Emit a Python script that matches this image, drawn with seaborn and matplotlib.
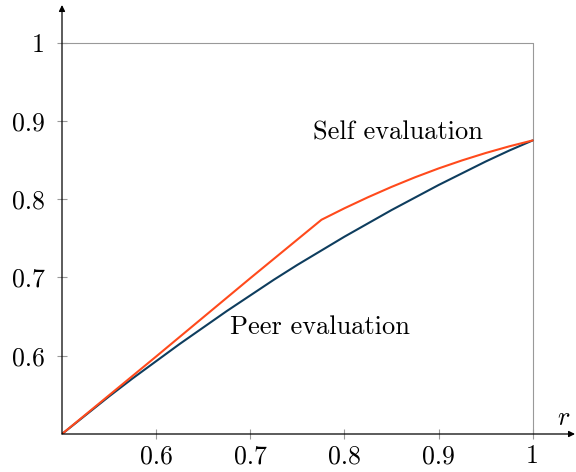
import matplotlib
matplotlib.use("Agg")
import matplotlib.pyplot as plt
import seaborn as sns
import pandas as pd

# data
peer_r = [0.5, 0.525, 0.55, 0.575, 0.6, 0.625, 0.65, 0.675, 0.7, 0.725, 0.75,
          0.775, 0.8, 0.825, 0.85, 0.875, 0.9, 0.925, 0.95, 0.975, 1.0]
peer_v = [0.5, 0.524, 0.548, 0.571, 0.593, 0.615, 0.636, 0.657, 0.677, 0.697, 0.716,
          0.734, 0.752, 0.769, 0.786, 0.802, 0.818, 0.833, 0.848, 0.862, 0.875]
self_r = [0.5, 0.6, 0.7, 0.7757, 0.8, 0.825, 0.85, 0.875, 0.9, 0.925, 0.95, 0.975, 1.0]
self_v = [0.5, 0.599, 0.699, 0.7737, 0.7883, 0.8024, 0.8156, 0.8279, 0.8392,
          0.8495, 0.8589, 0.8674, 0.875]
xticks = [0.6, 0.7, 0.8, 0.9, 1.0]
xtick_labels = ["0.6", "0.7", "0.8", "0.9", "1"]
yticks = [0.6, 0.7, 0.8, 0.9, 1.0]
ytick_labels = ["0.6", "0.7", "0.8", "0.9", "1"]

sns.set_style("white")
plt.rcParams["font.family"] = ["cmr10", "DejaVu Serif"]
plt.rcParams["mathtext.fontset"] = "cm"
plt.rcParams["axes.formatter.use_mathtext"] = True
plt.rcParams["text.color"] = "black"
plt.rcParams["xtick.labelcolor"] = "black"
plt.rcParams["ytick.labelcolor"] = "black"

fig = plt.figure(figsize=(5.76, 4.72), dpi=100)
ax = fig.add_axes([62 / 576, 38 / 472, 513 / 576, 429 / 472])

df_peer = pd.DataFrame({"r": peer_r, "v": peer_v})
df_self = pd.DataFrame({"r": self_r, "v": self_v})
sns.lineplot(data=df_peer, x="r", y="v", ax=ax, color="#0E3D5E", lw=1.5, zorder=3)
sns.lineplot(data=df_self, x="r", y="v", ax=ax, color="#FF4A1C", lw=1.5, zorder=4)

ax.set_xlim(0.5, 1.045)
ax.set_ylim(0.5, 1.048)

# gray box
ax.plot([0.5, 1.0], [1.0, 1.0], color="#999999", lw=0.8, zorder=1)
ax.plot([1.0, 1.0], [0.5, 1.0], color="#999999", lw=0.8, zorder=1)

for s in ax.spines.values():
    s.set_visible(False)

ax.set_xticks(xticks)
ax.set_xticklabels(xtick_labels)
ax.set_yticks(yticks)
ax.set_yticklabels(ytick_labels)
ax.tick_params(axis="both", direction="inout", length=7.2, width=0.8,
               color="#999999", labelsize=18.5, labelcolor="black",
               bottom=True, left=True)
ax.tick_params(axis="x", pad=4)
ax.tick_params(axis="y", pad=9)
ax.set_xlabel("")
ax.set_ylabel("")

# axes arrows
ax.annotate("", xy=(1.0, 0), xytext=(0, 0), xycoords="axes fraction",
            arrowprops=dict(arrowstyle="-|>", color="black", lw=0.9,
                            mutation_scale=9, shrinkA=0, shrinkB=0), zorder=5)
ax.annotate("", xy=(0, 1.0), xytext=(0, 0), xycoords="axes fraction",
            arrowprops=dict(arrowstyle="-|>", color="black", lw=0.9,
                            mutation_scale=9, shrinkA=0, shrinkB=0), zorder=5)

ax.text(1.033, 0.52, "$r$", fontsize=19, ha="center", va="center", color="black")
ax.text(0.8567, 0.885, "Self evaluation", fontsize=19, ha="center", va="center", color="black")
ax.text(0.774, 0.637, "Peer evaluation", fontsize=19, ha="center", va="center", color="black")

fig.savefig("out.png", dpi=100)
